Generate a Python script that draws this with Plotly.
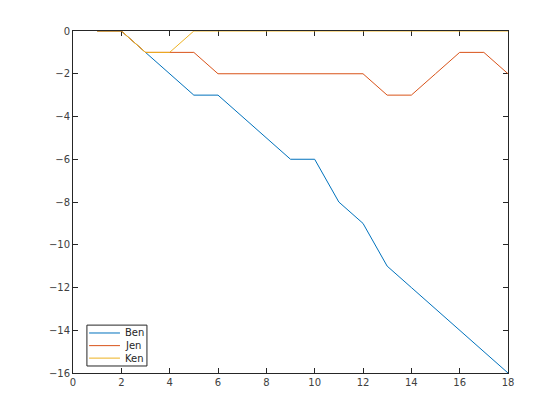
import plotly.graph_objects as go

x = list(range(1, 19))
ben = [0, 0, -1, -2, -3, -3, -4, -5, -6, -6, -8, -9, -11, -12, -13, -14, -15, -16]
jen = [0, 0, -1, -1, -1, -2, -2, -2, -2, -2, -2, -2, -3, -3, -2, -1, -1, -2]
ken = [0, 0, -1, -1, 0, 0, 0, 0, 0, 0, 0, 0, 0, 0, 0, 0, 0, 0]
names = ["Ben", "Jen", "Ken"]
colors = ["#0072BD", "#D95319", "#EDB120"]

fig = go.Figure()
for name, ys, c in zip(names, [ben, jen, ken], colors):
    fig.add_trace(go.Scatter(x=x, y=ys, mode="lines", name=name,
                             line=dict(color=c, width=1), showlegend=False))

axis_common = dict(showline=True, linecolor="#262626", linewidth=1, mirror="ticks",
                   ticks="inside", ticklen=5, tickcolor="#262626", showgrid=False,
                   zeroline=False, layer="below traces",
                   tickfont=dict(size=10, color="#404040", family="DejaVu Sans"))
fig.update_xaxes(range=[0, 18], tickvals=list(range(0, 19, 2)), **axis_common)
fig.update_yaxes(range=[-16, 0], tickvals=list(range(-16, 1, 2)), **axis_common)

# compact legend box (MATLAB style)
fig.add_shape(type="rect", xref="x domain", yref="y domain",
              x0=0.032, x1=0.170, y0=0.0205, y1=0.140,
              line=dict(color="#262626", width=1), fillcolor="white", layer="above")
row_y = [0.117, 0.080, 0.0435]
for name, c, yy in zip(names, colors, row_y):
    fig.add_shape(type="line", xref="x domain", yref="y domain",
                  x0=0.037, x1=0.108, y0=yy, y1=yy,
                  line=dict(color=c, width=1), layer="above")
    fig.add_annotation(xref="x domain", yref="y domain", x=0.115, y=yy,
                       text=name, showarrow=False, xanchor="left", yanchor="middle",
                       font=dict(size=10, color="#262626", family="DejaVu Sans"))

fig.update_layout(
    width=560, height=420,
    margin=dict(l=65, r=60, t=23, b=55),
    paper_bgcolor="white", plot_bgcolor="white",
    showlegend=False,
)
fig.write_html("out.html")
